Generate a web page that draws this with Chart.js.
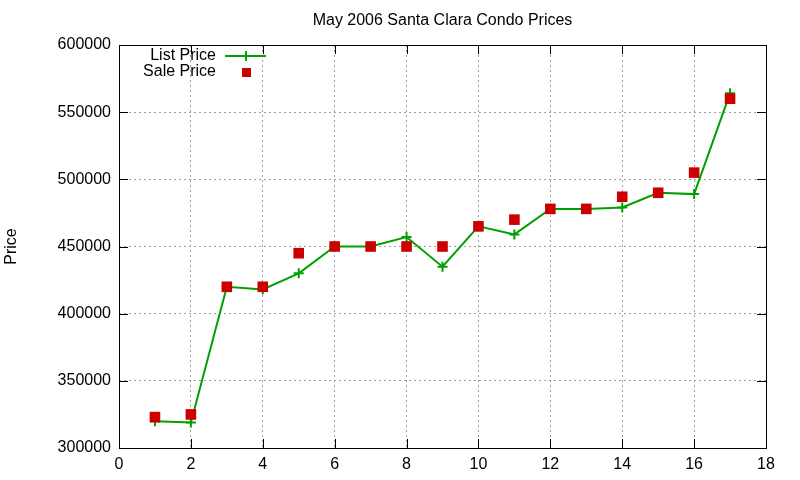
<!DOCTYPE html>
<html lang="en">
<head>
  <meta charset="UTF-8">
  <title>May 2006 Santa Clara Condo Prices</title>
  <script src="https://cdn.jsdelivr.net/npm/chart.js"></script>
  <style>
    html, body { margin: 0; padding: 0; background: #fff; }
    #wrap { width: 800px; height: 480px; }
  </style>
</head>
<body>
  <div id="wrap"><canvas id="condoChart"></canvas></div>
  <script>
    // data
    const condos = [1, 2, 3, 4, 5, 6, 7, 8, 9, 10, 11, 12, 13, 14, 15, 16, 17];
    const listPrice = [320000, 319000, 420000, 418000, 430000, 450000, 450000, 457000, 435000,
                       465000, 459000, 478000, 478000, 479000, 490000, 489000, 564000];
    const salePrice = [323000, 325000, 420000, 420000, 445000, 450000, 450000, 450000, 450000,
                       465000, 470000, 478000, 478000, 487000, 490000, 505000, 560000];
    const xTicks = [0, 2, 4, 6, 8, 10, 12, 14, 16, 18];
    const yTicks = [300000, 350000, 400000, 450000, 500000, 550000, 600000];

    const GREEN = '#00a000';
    const RED = '#cc0000';
    const FONT = 'Liberation Sans, Arial, sans-serif';

    // gnuplot style frame: border all round, ticks pointing inward, title, legend
    const gnuFrame = {
      id: 'gnuFrame',
      afterDraw(chart) {
        const { ctx, chartArea: a, scales: { x, y } } = chart;
        ctx.save();
        ctx.strokeStyle = '#000';
        ctx.lineWidth = 1;
        ctx.beginPath();
        xTicks.forEach(v => {
          const px = Math.round(x.getPixelForValue(v)) + 0.5;
          ctx.moveTo(px, a.bottom); ctx.lineTo(px, a.bottom - 9);
          ctx.moveTo(px, a.top); ctx.lineTo(px, a.top + 9);
        });
        yTicks.forEach(v => {
          const py = Math.round(y.getPixelForValue(v)) + 0.5;
          ctx.moveTo(a.left, py); ctx.lineTo(a.left + 9, py);
          ctx.moveTo(a.right, py); ctx.lineTo(a.right - 9, py);
        });
        ctx.stroke();
        ctx.strokeRect(Math.round(a.left) + 0.5, Math.round(a.top) + 0.5,
                       Math.round(a.right - a.left), Math.round(a.bottom - a.top));

        ctx.fillStyle = '#000';
        ctx.font = '16px ' + FONT;
        ctx.textAlign = 'center';
        ctx.textBaseline = 'middle';
        ctx.fillText('May 2006 Santa Clara Condo Prices', (a.left + a.right) / 2, 21);

        ctx.save();
        ctx.translate(12, (a.top + a.bottom) / 2);
        ctx.rotate(-Math.PI / 2);
        ctx.fillText('Price', 0, 0);
        ctx.restore();

        // key
        ctx.textAlign = 'right';
        ctx.fillText('List Price', 216, 56);
        ctx.fillText('Sale Price', 216, 72);
        ctx.strokeStyle = GREEN;
        ctx.lineWidth = 2;
        ctx.beginPath();
        ctx.moveTo(225, 56); ctx.lineTo(266, 56);
        ctx.moveTo(246, 51); ctx.lineTo(246, 61);
        ctx.stroke();
        ctx.fillStyle = RED;
        ctx.fillRect(242, 68, 9, 9);
        ctx.restore();
      }
    };

    const gridOpts = { color: '#a0a0a0', drawTicks: false };

    new Chart(document.getElementById('condoChart'), {
      type: 'scatter',
      data: {
        datasets: [
          {
            label: 'List Price',
            data: condos.map((c, i) => ({ x: c, y: listPrice[i] })),
            showLine: true,
            borderColor: GREEN,
            backgroundColor: GREEN,
            borderWidth: 2,
            pointStyle: 'cross',
            pointRadius: 5,
            pointBorderWidth: 2,
            tension: 0,
            order: 2
          },
          {
            label: 'Sale Price',
            data: condos.map((c, i) => ({ x: c, y: salePrice[i] })),
            showLine: false,
            backgroundColor: RED,
            borderColor: RED,
            borderWidth: 0,
            pointStyle: 'rect',
            pointRadius: 7.5,
            order: 1
          }
        ]
      },
      options: {
        responsive: true,
        maintainAspectRatio: false,
        animation: false,
        layout: { padding: { top: 45, right: 34, left: 0, bottom: 0 } },
        plugins: { legend: { display: false }, tooltip: { enabled: false } },
        scales: {
          x: {
            type: 'linear',
            min: 0,
            max: 18,
            afterBuildTicks: s => { s.ticks = xTicks.map(v => ({ value: v })); },
            afterFit: s => { s.height = 32; },
            border: { display: false, dash: [2, 3] },
            grid: gridOpts,
            ticks: { color: '#000', padding: 7, font: { family: FONT, size: 16 },
                     callback: v => String(v) }
          },
          y: {
            min: 300000,
            max: 600000,
            afterBuildTicks: s => { s.ticks = yTicks.map(v => ({ value: v })); },
            afterFit: s => { s.width = 119; },
            border: { display: false, dash: [2, 3] },
            grid: gridOpts,
            ticks: { color: '#000', padding: 8, font: { family: FONT, size: 16 },
                     callback: v => String(v) }
          }
        }
      },
      plugins: [gnuFrame]
    });
  </script>
</body>
</html>
